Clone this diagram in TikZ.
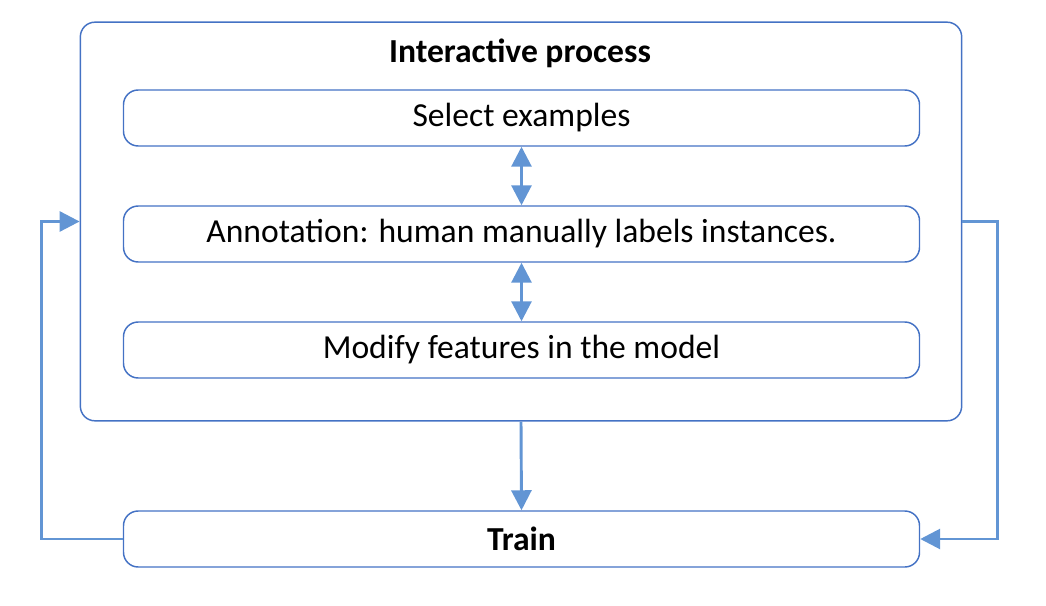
\documentclass[tikz,border=0pt]{standalone}
\usepackage{fontspec}
\setmainfont{Carlito}
\usetikzlibrary{arrows.meta,calc}
\definecolor{boxblue}{RGB}{68,114,196}
\definecolor{arrowblue}{RGB}{98,149,212}
\tikzstyle{stage}=[draw=boxblue,line width=1.1pt,rounded corners=11pt,minimum width=597pt,minimum height=42pt,inner sep=0pt,font=\fontsize{25.2}{28}\selectfont]
\tikzstyle{frame}=[draw=boxblue,line width=1.1pt,rounded corners=11pt,minimum width=661pt,minimum height=299pt,inner sep=0pt]
\tikzstyle{flow} = [draw=arrowblue,line width=2.2pt,-{Triangle[length=15pt,width=15pt]}]
\tikzstyle{twoway} = [draw=arrowblue,line width=2.2pt,{Triangle[length=15pt,width=15pt]}-{Triangle[length=15pt,width=15pt]}]

\begin{document}
\begin{tikzpicture}[x=0.75pt,y=-0.75pt]
    \useasboundingbox (0,0) rectangle (1046,606);
    % Outer frame with its title
    \node[frame] (proc) at (521,221.5) {};
    \node[font=\fontsize{25.2}{28}\selectfont\bfseries] (title) at (520,53) {Interactive process};

    % The three inner stages
    \foreach \pos/ \name/ \text in {{(521.5,118)/sel/Select examples},{(521.5,234)/ann/Annotation: human manually labels instances.},{(521.5,350)/mod/Modify features in the model}}
        \node[stage] (\name) at \pos {\text};

    \node[stage,font=\fontsize{25.2}{28}\selectfont\bfseries] (train) at (521.5,539) {Train};

    % Arrows between the stages
    \foreach \source/ \dest in {sel/ann, ann/mod}
        \path[twoway] (\source.south) -- (\dest.north);
    \path[flow] (proc.south) -- (train.north);

    % Feedback loops round the sides
    \path[flow] (train.west) -| ($(proc.west)+(-38,0)$) coordinate (lt) |- (proc.west);
    \path[flow] (proc.east) -| ($(proc.east)+(35,0)$) coordinate (rt) |- (train.east);

\end{tikzpicture}
\end{document}
